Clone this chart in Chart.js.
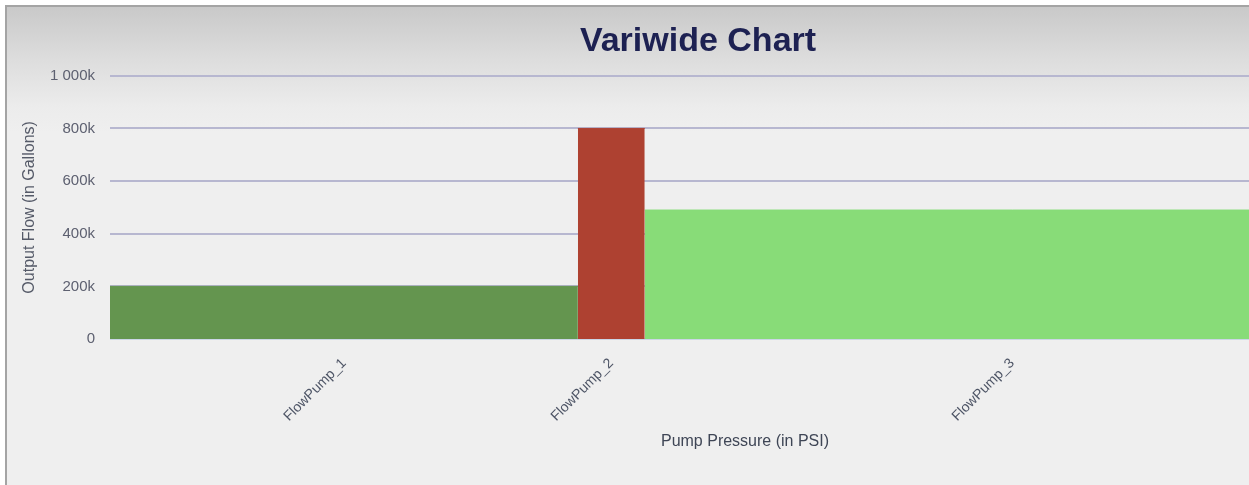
<!DOCTYPE html>
<html>
<head>
<meta charset="utf-8">
<title>Variwide Chart</title>
<script src="https://cdn.jsdelivr.net/npm/chart.js@4/dist/chart.umd.min.js"></script>
<style>
  html, body { margin: 0; padding: 0; background: #fff; overflow: hidden; }
  #wrap {
    position: absolute;
    left: 5px;
    top: 5px;
    width: 1382px;
    height: 478px;
    border-left: 2px solid #a4a4a4;
    border-top: 2px solid #a4a4a4;
    background: linear-gradient(to bottom, #c9c9c9 0px, #dcdcdc 50px, #ececec 100px, #efefef 125px, #efefef 100%);
  }
</style>
</head>
<body>
<div id="wrap"><canvas id="chart" width="1382" height="478"></canvas></div>
<script>
// pumps, their output flow and the width (pressure) of each column
const pumpNames = ["FlowPump_1", "FlowPump_2", "FlowPump_3"];
const pumpFlow = [200000, 800000, 490000];
const pumpPressure = [70, 10, 110];
const pumpColors = ["#64954f", "#ae4131", "#88dc78"];

const fontFamily = '"Liberation Sans", Arial, sans-serif';

// each column starts where the previous one ended
const pumpStarts = [];
let running = 0;
for (let i = 0; i < pumpPressure.length; i++) {
    pumpStarts.push(running);
    running += pumpPressure[i];
}
const totalPressure = running;
const pumpCenters = pumpStarts.map((s, i) => s + pumpPressure[i] / 2);

// one filled line per column so the width follows the x scale
const datasets = pumpNames.map((name, i) => ({
    label: name,
    data: [
        { x: pumpStarts[i], y: pumpFlow[i] },
        { x: pumpStarts[i] + pumpPressure[i], y: pumpFlow[i] }
    ],
    fill: 'origin',
    backgroundColor: pumpColors[i],
    borderColor: pumpColors[i],
    borderWidth: 1,
    pointRadius: 0,
    tension: 0
}));

function formatFlow(value) {
    const k = Math.round(value / 1000);
    return k === 0 ? "0" : String(k).replace(/\B(?=(\d{3})+(?!\d))/g, " ") + "k";
}

new Chart(document.getElementById("chart"), {
    type: 'line',
    data: { datasets: datasets },
    options: {
        responsive: false,
        animation: false,
        layout: { padding: { left: 9, right: 9, top: 0, bottom: 0 } },
        plugins: {
            legend: { display: false },
            tooltip: { enabled: false },
            title: {
                display: true,
                text: 'Variwide Chart',
                color: '#1d2152',
                font: { family: fontFamily, size: 34, weight: 'bold', lineHeight: 1.2 },
                padding: { top: 14, bottom: 14 }
            }
        },
        scales: {
            x: {
                type: 'linear',
                min: 0,
                max: totalPressure,
                grid: { display: false },
                border: { display: false },
                afterBuildTicks: (scale) => {
                    scale.ticks = pumpCenters.map(v => ({ value: v }));
                },
                afterFit: (scale) => { scale.height = 146; },
                ticks: {
                    autoSkip: false,
                    minRotation: 45,
                    maxRotation: 45,
                    padding: 8,
                    color: '#4e5566',
                    font: { family: fontFamily, size: 14 },
                    callback: (value) => pumpNames[pumpCenters.indexOf(value)]
                },
                title: {
                    display: true,
                    text: 'Pump Pressure (in PSI)',
                    color: '#3f4656',
                    font: { family: fontFamily, size: 16 },
                    padding: { top: 0, bottom: 34 }
                }
            },
            y: {
                min: 0,
                max: 1000000,
                afterFit: (scale) => { scale.width = 94; },
                grid: {
                    drawTicks: false,
                    lineWidth: 2,
                    color: (ctx) => ctx.tick && ctx.tick.value === 0 ? '#ccd6e6' : '#b7b7d0'
                },
                border: { display: false },
                ticks: {
                    stepSize: 200000,
                    padding: 15,
                    color: '#5d6070',
                    font: { family: fontFamily, size: 15 },
                    callback: (value) => formatFlow(value)
                },
                title: {
                    display: true,
                    text: 'Output Flow (in Gallons)',
                    color: '#555a68',
                    font: { family: fontFamily, size: 16 },
                    padding: { top: 4, bottom: 0 }
                }
            }
        }
    }
});
</script>
</body>
</html>
